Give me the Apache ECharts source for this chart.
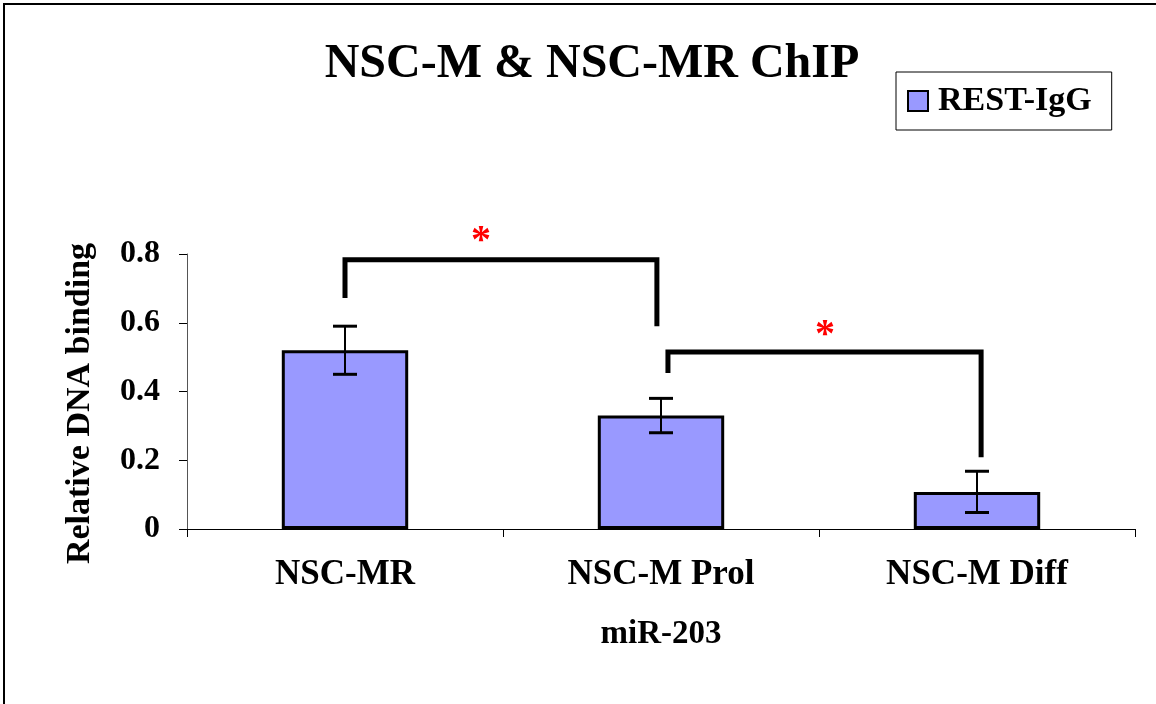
<!DOCTYPE html>
<html>
<head>
<meta charset="utf-8">
<script src="https://cdn.jsdelivr.net/npm/echarts@6/dist/echarts.min.js"></script>
<style>
html,body{margin:0;padding:0;background:#fff;}
#chart{width:1156px;height:704px;}
</style>
</head>
<body>
<div id="chart"></div>
<script>
var categories = ['NSC-MR', 'NSC-M Prol', 'NSC-M Diff'];
var values = [0.52, 0.33, 0.108];
var errors = [0.07, 0.05, 0.06];
var yTicks = [0, 0.2, 0.4, 0.6, 0.8];
// significance brackets: [xLeft, yLeftEnd, xRight, yRightEnd, yTop] in category/value units
var brackets = [
  [0.0, 0.672, 0.987, 0.590, 0.783],
  [1.022, 0.454, 2.013, 0.209, 0.515]
];
// asterisk marks [x, y]
var stars = [[0.43, 0.852], [1.519, 0.579]];

var FONT = '"Liberation Serif", "Times New Roman", serif';
var chart = echarts.init(document.getElementById('chart'));

var errData = values.map(function (v, i) { return [i, v, v - errors[i], v + errors[i]]; });

var option = {
  backgroundColor: '#fff',
  animation: false,
  tooltip: {show: false},
  title: {
    text: 'NSC-M & NSC-MR ChIP',
    left: 587, textAlign: 'center',
    top: 36,
    textStyle: {fontFamily: FONT, fontWeight: 'bold', fontSize: 48, color: '#000'}
  },
  legend: {
    data: ['REST-IgG'],
    left: 896, top: 72,
    orient: 'vertical',
    borderColor: '#000', borderWidth: 1,
    padding: [12, 20, 12, 11],
    itemWidth: 20, itemHeight: 20, itemGap: 0,
    icon: 'rect',
    textStyle: {fontFamily: FONT, fontWeight: 'bold', fontSize: 34, color: '#000', padding: [0, 0, 0, 5]}
  },
  grid: {left: 187, right: 21, top: 254, bottom: 175},
  xAxis: [{
    type: 'category',
    data: categories,
    name: 'miR-203',
    nameLocation: 'middle',
    nameGap: 89,
    nameTextStyle: {fontFamily: FONT, fontWeight: 'bold', fontSize: 33, color: '#000', verticalAlign: 'top'},
    axisLine: {onZero: false, lineStyle: {color: '#000', width: 1}},
    axisTick: {show: true, inside: false, length: 8, lineStyle: {color: '#000'}},
    axisLabel: {margin: 28, fontFamily: FONT, fontWeight: 'bold', fontSize: 35, color: '#000'}
  }, {
    type: 'value', min: -0.5, max: 2.5, show: false
  }],
  yAxis: {
    type: 'value',
    min: 0, max: 0.8, interval: 0.2,
    name: 'Relative DNA binding',
    nameLocation: 'middle',
    nameGap: 90,
    nameRotate: 90,
    nameTextStyle: {fontFamily: FONT, fontWeight: 'bold', fontSize: 34, color: '#000', padding: [0, 24, 0, 0]},
    axisLine: {show: true, onZero: false, lineStyle: {color: '#555', width: 1}},
    axisTick: {show: true, inside: false, length: 8, lineStyle: {color: '#000'}},
    splitLine: {show: false},
    axisLabel: {
      margin: 27, fontFamily: FONT, fontWeight: 'bold', fontSize: 32, color: '#000',
      formatter: function (v) {
        for (var i = 0; i < yTicks.length; i++) {
          if (Math.abs(yTicks[i] - v) < 1e-9) return String(yTicks[i]);
        }
        return '';
      }
    }
  },
  series: [{
    name: 'REST-IgG',
    type: 'bar',
    data: values,
    barWidth: '40%',
    itemStyle: {color: '#9999FF', borderColor: '#000', borderWidth: 3}
  }, {
    type: 'custom',
    name: 'err',
    xAxisIndex: 1,
    encode: {x: 0, y: 1},
    data: errData,
    renderItem: function (params, api) {
      var x = api.value(0);
      var lo = api.coord([x, api.value(2)]);
      var hi = api.coord([x, api.value(3)]);
      var hw = 12;
      return {
        type: 'group',
        children: [
          {type: 'line', shape: {x1: lo[0], y1: lo[1], x2: hi[0], y2: hi[1]}, style: {stroke: '#000', lineWidth: 2}},
          {type: 'line', shape: {x1: lo[0] - hw, y1: lo[1], x2: lo[0] + hw, y2: lo[1]}, style: {stroke: '#000', lineWidth: 3}},
          {type: 'line', shape: {x1: hi[0] - hw, y1: hi[1], x2: hi[0] + hw, y2: hi[1]}, style: {stroke: '#000', lineWidth: 3}}
        ]
      };
    },
    z: 5
  }, {
    type: 'custom',
    name: 'brackets',
    xAxisIndex: 1,
    encode: {x: 0, y: 1},
    clip: false,
    data: brackets,
    renderItem: function (params, api) {
      var p1 = api.coord([api.value(0), api.value(1)]);
      var p2 = api.coord([api.value(0), api.value(4)]);
      var p3 = api.coord([api.value(2), api.value(4)]);
      var p4 = api.coord([api.value(2), api.value(3)]);
      return {
        type: 'polyline',
        shape: {points: [p1, p2, p3, p4]},
        style: {stroke: '#000', lineWidth: 5, fill: null, lineJoin: 'miter'}
      };
    },
    z: 6
  }, {
    type: 'custom',
    name: 'stars',
    xAxisIndex: 1,
    encode: {x: 0, y: 1},
    clip: false,
    data: stars,
    renderItem: function (params, api) {
      var p = api.coord([api.value(0), api.value(1)]);
      return {
        type: 'text',
        x: p[0], y: p[1] + 6,
        style: {text: '*', fill: '#ff0000', fontSize: 40, fontWeight: 'bold', fontFamily: FONT, align: 'center', verticalAlign: 'middle'}
      };
    },
    z: 6
  }],
  graphic: [
    {type: 'line', shape: {x1: 3, y1: 4, x2: 1156, y2: 4}, style: {stroke: '#000', lineWidth: 2}},
    {type: 'line', shape: {x1: 4, y1: 4, x2: 4, y2: 704}, style: {stroke: '#000', lineWidth: 2}}
  ]
};
chart.setOption(option);
</script>
</body>
</html>
